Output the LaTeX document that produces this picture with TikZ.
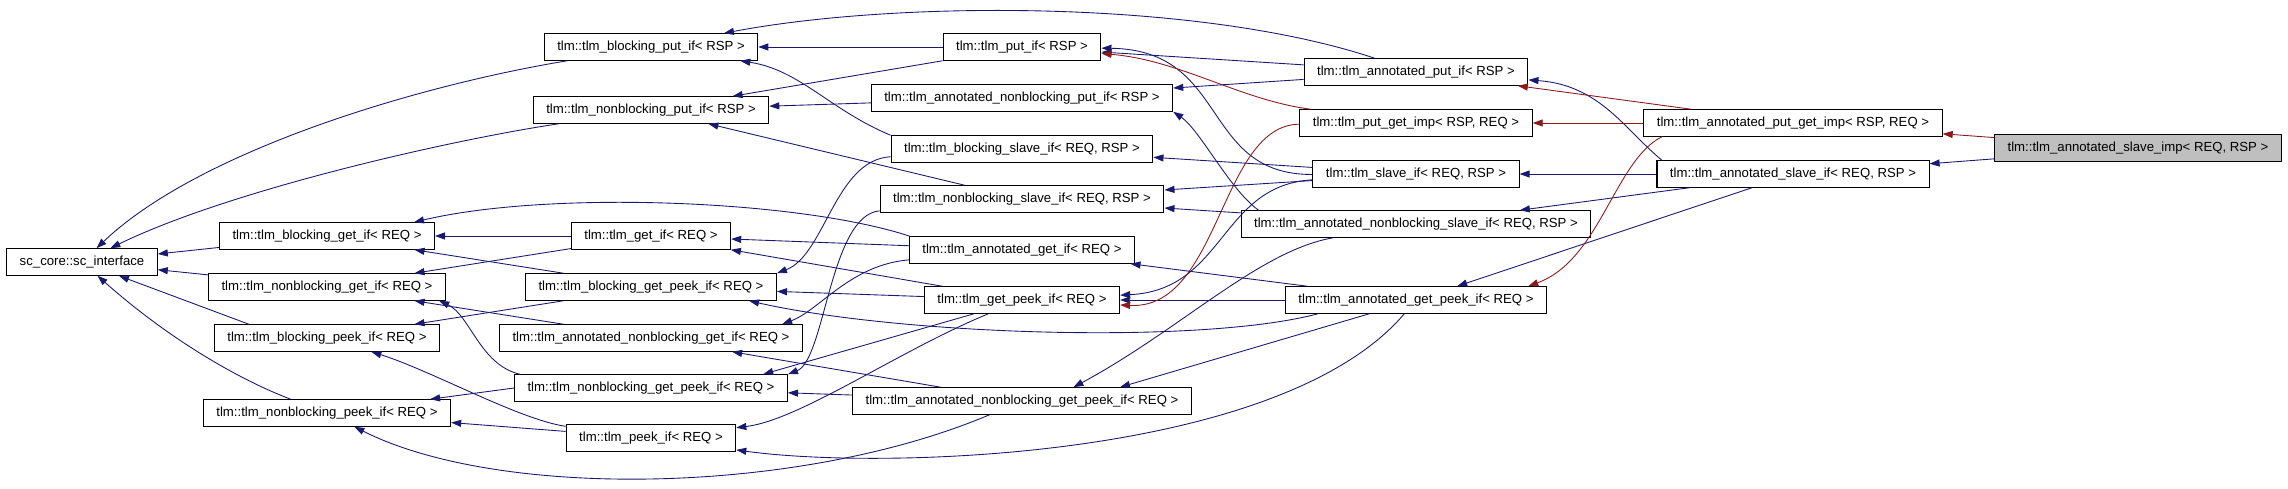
\documentclass[tikz,border=0pt]{standalone}
\usepackage{fontspec}
\setmainfont{Liberation Sans}
\usepackage{tikz}
\usepackage{xcolor}
\usetikzlibrary{arrows.meta}
\definecolor{pubblue}{RGB}{25,25,112}
\definecolor{protred}{RGB}{139,26,26}
\definecolor{implgray}{RGB}{191,191,191}

\begin{document}
\begin{tikzpicture}[x=0.02cm,y=-0.02cm,
  cls/.style={draw=black,fill=white,line width=0.6pt,minimum height=0.53cm,
    inner xsep=0.26cm,inner ysep=0pt,font=\fontsize{7.5}{9}\selectfont},
  impl/.style={cls,fill=implgray},
  pub/.style={pubblue,line width=0.5pt,-{Triangle[length=5.7pt,width=4pt]}},
  prot/.style={pub,protred}]
  \useasboundingbox (0,0) rectangle (2288,489);
  % classes, column by column
  \node[cls](sci) at (82,262){sc\_core::sc\_interface};
  \node[cls](bget) at (327,236){tlm::tlm\_blocking\_get\_if< REQ >};
  \node[cls](nbget) at (327,287){tlm::tlm\_nonblocking\_get\_if< REQ >};
  \node[cls](bpeek) at (327,338){tlm::tlm\_blocking\_peek\_if< REQ >};
  \node[cls](nbpeek) at (327,413){tlm::tlm\_nonblocking\_peek\_if< REQ >};
  \node[cls](bput) at (651,47){tlm::tlm\_blocking\_put\_if< RSP >};
  \node[cls](nbput) at (651,110){tlm::tlm\_nonblocking\_put\_if< RSP >};
  \node[cls](getif) at (651,236){tlm::tlm\_get\_if< REQ >};
  \node[cls](bgetpeek) at (651,287){tlm::tlm\_blocking\_get\_peek\_if< REQ >};
  \node[cls](annnbget) at (651,338){tlm::tlm\_annotated\_nonblocking\_get\_if< REQ >};
  \node[cls](nbgetpeek) at (651,388){tlm::tlm\_nonblocking\_get\_peek\_if< REQ >};
  \node[cls](peek) at (651,438){tlm::tlm\_peek\_if< REQ >};
  \node[cls](put) at (1022,47){tlm::tlm\_put\_if< RSP >};
  \node[cls](annnbput) at (1022,98){tlm::tlm\_annotated\_nonblocking\_put\_if< RSP >};
  \node[cls](bslave) at (1022,149){tlm::tlm\_blocking\_slave\_if< REQ, RSP >};
  \node[cls](nbslave) at (1022,199){tlm::tlm\_nonblocking\_slave\_if< REQ, RSP >};
  \node[cls](annget) at (1022,250){tlm::tlm\_annotated\_get\_if< REQ >};
  \node[cls](getpeek) at (1022,300){tlm::tlm\_get\_peek\_if< REQ >};
  \node[cls](annnbgetpeek) at (1022,401){tlm::tlm\_annotated\_nonblocking\_get\_peek\_if< REQ >};
  \node[cls](annput) at (1416,72){tlm::tlm\_annotated\_put\_if< RSP >};
  \node[cls](putgetimp) at (1416,123){tlm::tlm\_put\_get\_imp< RSP, REQ >};
  \node[cls](slave) at (1416,174){tlm::tlm\_slave\_if< REQ, RSP >};
  \node[cls](annnbslave) at (1416,224){tlm::tlm\_annotated\_nonblocking\_slave\_if< REQ, RSP >};
  \node[cls](anngetpeek) at (1416,300){tlm::tlm\_annotated\_get\_peek\_if< REQ >};
  \node[cls](annputgetimp) at (1793,123){tlm::tlm\_annotated\_put\_get\_imp< RSP, REQ >};
  \node[cls](annslave) at (1793,174){tlm::tlm\_annotated\_slave\_if< REQ, RSP >};
  \node[impl](annslaveimp) at (2138,148){tlm::tlm\_annotated\_slave\_imp< REQ, RSP >};
  % inheritance into sc_interface
  \draw[pub] (bput) .. controls (420,85) and (200,150) .. (sci);
  \draw[pub] (nbput) .. controls (450,140) and (230,190) .. (sci);
  \draw[pub] (bget) -- (sci);
  \draw[pub] (nbget) -- (sci);
  \draw[pub] (bpeek.170) -- (sci);
  \draw[pub] (nbpeek) .. controls (240,380) and (170,340) .. (sci);
  % put side
  \draw[pub] (put) -- (bput);
  \draw[pub] (annput) .. controls (1200,0) and (900,0) .. (bput);
  \draw[pub] (bslave.north west) .. controls (830,110) and (800,70) .. (bput);
  \draw[pub] (put.south west) -- (nbput);
  \draw[pub] (annnbput) -- (nbput);
  \draw[pub] (nbslave) -- (nbput);
  \draw[pub] (annput) -- (put);
  \draw[pub] (slave) .. controls (1200,175) and (1230,50) .. (put);
  \draw[prot] (putgetimp) .. controls (1240,100) and (1180,60) .. (put);
  \draw[pub] (annput) -- (annnbput);
  \draw[pub] (annnbslave.175) .. controls (1230,190) and (1200,130) .. (annnbput.south east);
  \draw[pub] (slave) -- (bslave);
  \draw[pub] (slave) -- (nbslave);
  \draw[pub] (annnbslave) -- (nbslave);
  \draw[prot] (annputgetimp) -- (putgetimp);
  \draw[pub] (annslave.174) .. controls (1625,130) and (1600,85) .. (annput);
  \draw[prot] (annputgetimp) -- (annput);
  \draw[pub] (annslave) -- (slave);
  \draw[pub] (annslave) -- (annnbslave);
  \draw[pub] (slave) .. controls (1220,185) and (1225,290) .. (getpeek);
  \draw[pub] (anngetpeek) -- (getpeek);
  \draw[prot] (putgetimp) .. controls (1220,125) and (1220,310) .. (getpeek);
  \draw[pub] (annslave) -- (anngetpeek);
  \draw[prot] (annputgetimp.186) .. controls (1615,160) and (1600,260) .. (anngetpeek.7);
  \draw[pub] (anngetpeek) -- (annget);
  % get / peek side
  \draw[pub] (annget) -- (getif);
  \draw[pub] (getpeek) -- (getif);
  \draw[pub] (getif) -- (bget);
  \draw[pub] (annget.173) .. controls (800,200) and (550,190) .. (bget.9);
  \draw[pub] (bgetpeek) -- (bget);
  \draw[pub] (getif) -- (nbget);
  \draw[pub] (annnbget) -- (nbget);
  \draw[pub] (nbgetpeek.174) .. controls (480,365) and (470,315) .. (nbget.-7);
  \draw[pub] (bgetpeek) -- (bpeek);
  \draw[pub] (peek) .. controls (520,420) and (430,370) .. (bpeek);
  \draw[pub] (nbgetpeek.west) -- (nbpeek);
  \draw[pub] (peek) -- (nbpeek);
  \draw[pub] (annnbgetpeek) .. controls (800,495) and (500,500) .. (nbpeek);
  \draw[pub] (anngetpeek) .. controls (1280,460) and (880,470) .. (peek);
  \draw[pub] (getpeek) .. controls (900,350) and (800,420) .. (peek);
  \draw[pub] (bslave) .. controls (835,160) and (825,255) .. (bgetpeek.north east);
  \draw[pub] (getpeek) -- (bgetpeek);
  \draw[pub] (anngetpeek.188) .. controls (1200,345) and (900,335) .. (bgetpeek.-8);
  \draw[pub] (getpeek) -- (nbgetpeek.7);
  \draw[pub] (nbslave) .. controls (830,215) and (825,360) .. (nbgetpeek.north east);
  \draw[pub] (annnbgetpeek) -- (nbgetpeek);
  \draw[pub] (annget) .. controls (850,265) and (820,310) .. (annnbget.6);
  \draw[pub] (annnbgetpeek) -- (annnbget);
  \draw[pub] (annnbslave) .. controls (1260,250) and (1180,330) .. (annnbgetpeek.15);
  \draw[pub] (anngetpeek) -- (annnbgetpeek.8);
  % the implementation
  \draw[prot] (annslaveimp) -- (annputgetimp);
  \draw[pub] (annslaveimp) -- (annslave);
\end{tikzpicture}
\end{document}
